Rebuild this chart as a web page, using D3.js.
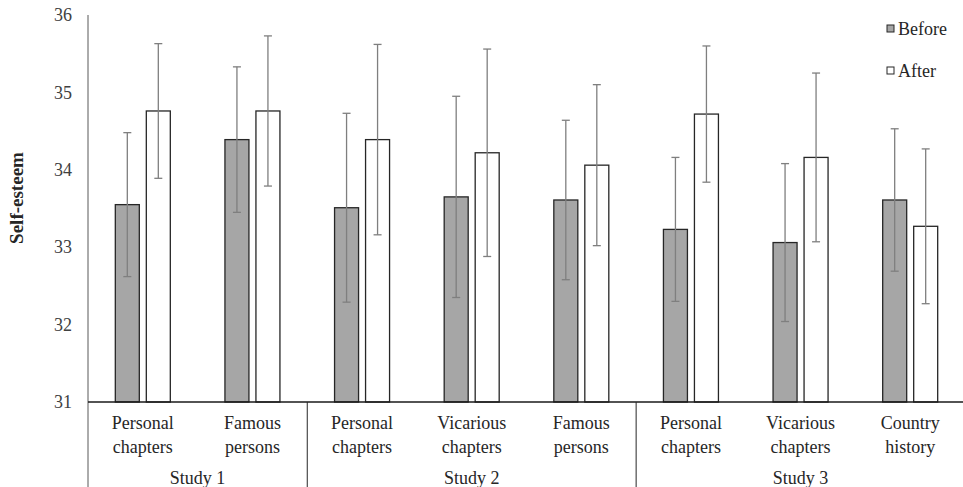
<!DOCTYPE html>
<html>
<head>
<meta charset="utf-8">
<script src="https://cdn.jsdelivr.net/npm/d3@7"></script>
<style>
  body { margin: 0; background: #fff; }
  svg { display: block; font-family: "Liberation Serif", "Times New Roman", serif; }
</style>
</head>
<body>
<div id="container"></div>
<script>
let w = 963;
let h = 487;

// data
let categories = [
  ["Personal", "chapters"], ["Famous", "persons"],
  ["Personal", "chapters"], ["Vicarious", "chapters"], ["Famous", "persons"],
  ["Personal", "chapters"], ["Vicarious", "chapters"], ["Country", "history"]
];
let studies = ["Study 1", "Study 2", "Study 3"];
let studySizes = [2, 3, 3];
let before = [33.55, 34.39, 33.51, 33.65, 33.61, 33.23, 33.06, 33.61];
let after = [34.76, 34.76, 34.39, 34.22, 34.06, 34.72, 34.16, 33.27];
let beforeErr = [0.93, 0.94, 1.22, 1.30, 1.03, 0.93, 1.02, 0.92];
let afterErr = [0.87, 0.97, 1.23, 1.34, 1.04, 0.88, 1.09, 1.00];
let yTicks = [31, 32, 33, 34, 35, 36];
let seriesNames = ["Before", "After"];

let plotLeft = 88, plotRight = 965, plotTop = 15, plotBottom = 402;

let viz = d3.select("#container")
  .append("svg")
  .attr("width", w)
  .attr("height", h);

let x = d3.scaleBand()
  .domain(d3.range(categories.length))
  .range([plotLeft, plotRight]);

let y = d3.scaleLinear()
  .domain([31, 36])
  .range([plotBottom, plotTop]);

let colors = ["#a6a6a6", "#ffffff"];
let barW = 24;
let offsets = [-15.5, 15.5];

// y axis
let yAxis = d3.axisLeft(y)
  .tickValues(yTicks)
  .tickFormat(d3.format("d"))
  .tickSize(0)
  .tickPadding(16);
let yg = viz.append("g")
  .attr("transform", `translate(${plotLeft},0)`)
  .call(yAxis)
  .attr("font-family", "Liberation Serif")
  .attr("font-size", 18);
yg.select(".domain").remove();
yg.selectAll("text")
  .attr("fill", "#404040");

viz.append("line")
  .attr("x1", plotLeft).attr("x2", plotLeft)
  .attr("y1", plotTop).attr("y2", h)
  .attr("stroke", "#595959")
  .attr("stroke-width", 1);

viz.append("text")
  .attr("transform", "translate(23,198) rotate(-90)")
  .attr("text-anchor", "middle")
  .attr("font-family", "Liberation Serif")
  .attr("font-size", 19)
  .attr("font-weight", "bold")
  .attr("fill", "#262626")
  .text("Self-esteem");

// bars
let series = [before, after];
let errs = [beforeErr, afterErr];
series.forEach((vals, s) => {
  viz.append("g").selectAll("rect")
    .data(vals)
    .enter()
    .append("rect")
    .attr("x", (d, i) => x(i) + x.bandwidth() / 2 + offsets[s] - barW / 2)
    .attr("y", d => y(d))
    .attr("width", barW)
    .attr("height", d => y(31) - y(d))
    .attr("fill", colors[s])
    .attr("stroke", "#262626")
    .attr("stroke-width", 1.3);
});

// error bars
series.forEach((vals, s) => {
  let g = viz.append("g")
    .attr("stroke", "#7f7f7f")
    .attr("stroke-width", 1.3);
  vals.forEach((v, i) => {
    let cx = x(i) + x.bandwidth() / 2 + offsets[s];
    let hi = y(v + errs[s][i]);
    let lo = y(v - errs[s][i]);
    g.append("line").attr("x1", cx).attr("x2", cx).attr("y1", hi).attr("y2", lo);
    g.append("line").attr("x1", cx - 4).attr("x2", cx + 4).attr("y1", hi).attr("y2", hi);
    g.append("line").attr("x1", cx - 4).attr("x2", cx + 4).attr("y1", lo).attr("y2", lo);
  });
});

// x axis line
viz.append("line")
  .attr("x1", plotLeft).attr("x2", w)
  .attr("y1", plotBottom).attr("y2", plotBottom)
  .attr("stroke", "#1a1a1a")
  .attr("stroke-width", 1.5);

// category labels
let catG = viz.append("g")
  .attr("font-size", 18)
  .attr("fill", "#262626")
  .attr("text-anchor", "middle");
categories.forEach((c, i) => {
  let cx = x(i) + x.bandwidth() / 2;
  let t = catG.append("text")
    .attr("x", cx)
    .attr("y", 429);
  t.append("tspan").attr("x", cx).attr("dy", 0).text(c[0]);
  t.append("tspan").attr("x", cx).attr("dy", 24).text(c[1]);
});

// study groups
let start = 0;
studies.forEach((st, k) => {
  let x0 = x(start);
  let x1 = x(start + studySizes[k] - 1) + x.bandwidth();
  if (k > 0) {
    viz.append("line")
      .attr("x1", x0).attr("x2", x0)
      .attr("y1", plotBottom).attr("y2", h)
      .attr("stroke", "#262626")
      .attr("stroke-width", 1);
  }
  viz.append("text")
    .attr("x", (x0 + x1) / 2)
    .attr("y", 484)
    .attr("text-anchor", "middle")
    .attr("font-size", 18)
    .attr("fill", "#262626")
    .text(st);
  start += studySizes[k];
});

// legend
let legend = viz.append("g");
seriesNames.forEach((name, s) => {
  let ly = 29 + s * 42;
  legend.append("rect")
    .attr("x", 887).attr("y", ly - 4)
    .attr("width", 7).attr("height", 7)
    .attr("fill", colors[s])
    .attr("stroke", "#262626")
    .attr("stroke-width", 1);
  legend.append("text")
    .attr("x", 898).attr("y", ly + 6)
    .attr("font-size", 18)
    .attr("fill", "#262626")
    .text(name);
});
</script>
</body>
</html>
